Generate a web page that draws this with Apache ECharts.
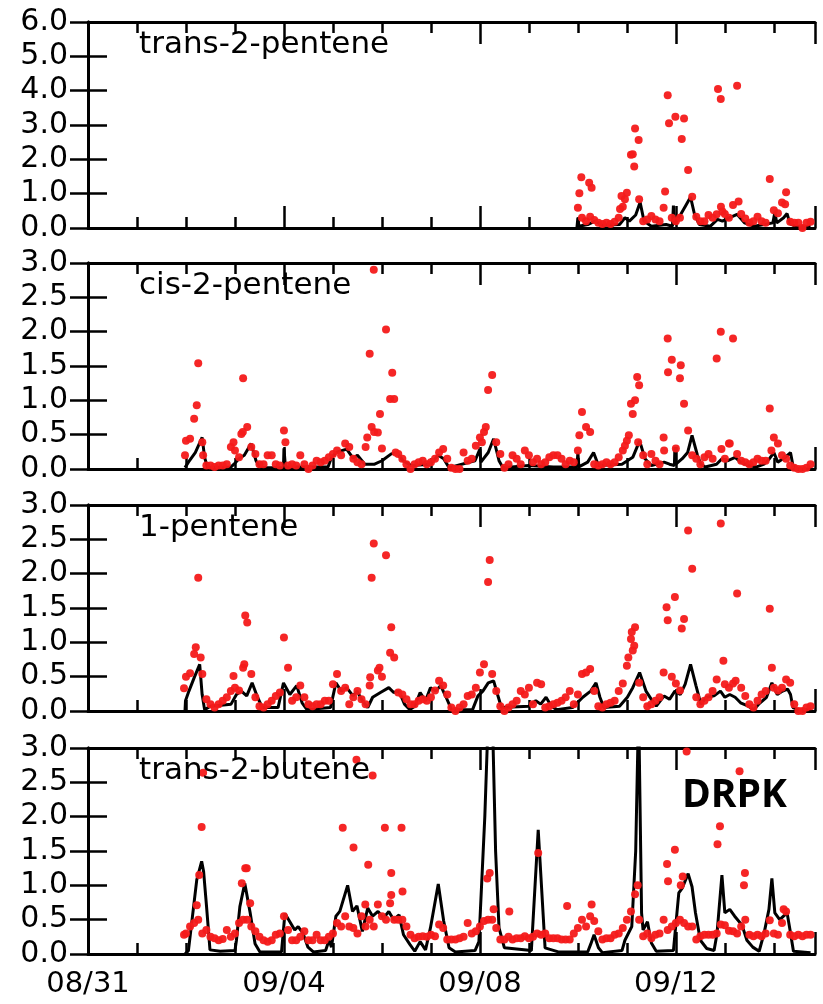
<!DOCTYPE html>
<html>
<head>
<meta charset="utf-8">
<script src="https://cdn.jsdelivr.net/npm/echarts@6/dist/echarts.min.js"></script>
<style>
html,body{margin:0;padding:0;background:#fff;}
#chart{width:823px;height:1004px;}
</style>
</head>
<body>
<div id="chart"></div>
<script>
// ---------------- DATA ----------------
// time in days since 08/31 00:00
const xTickDays = [0, 4, 8, 12];
const xTickLabels = ['08/31', '09/04', '09/08', '09/12'];
const panelNames = ['trans-2-pentene', 'cis-2-pentene', '1-pentene', 'trans-2-butene'];
const yMaxes = [6, 3, 3, 3];
const yIntervals = [1, 0.5, 0.5, 0.5];

// model (black line) vertices [day, value]
const t2pModel = [[9.98,0],[10.0,0.3],[10.02,0.05],[10.2,0.1],[10.35,0.2],[10.5,0.08],[10.85,0.1],[10.96,0.3],[11.05,0.2],[11.18,0.38],[11.27,0.75],[11.35,0.2],[11.5,0.05],[11.8,0.1],[11.93,0.05],[11.95,0.65],[11.97,0.1],[12.1,0.4],[12.2,0.65],[12.3,0.9],[12.38,0.4],[12.48,0.1],[12.7,0.05],[12.85,0.25],[12.95,0.2],[13.1,0.3],[13.25,0.4],[13.4,0.15],[13.6,0.05],[13.8,0.1],[13.98,0.15],[14.02,0.45],[14.06,0.15],[14.2,0.3],[14.27,0.42],[14.33,0.12],[14.45,0.05],[14.75,0.05]];

const c2pModel = [[1.98,0.02],[2.05,0.1],[2.19,0.24],[2.33,0.46],[2.38,0.17],[2.44,0.02],[2.92,0.03],[2.98,0.07],[3.08,0.15],[3.19,0.2],[3.33,0.37],[3.43,0.12],[3.51,0.02],[3.99,0.02],[4.0,0.3],[4.03,0.03],[4.9,0.03],[4.96,0.15],[5.06,0.24],[5.28,0.29],[5.41,0.16],[5.5,0.2],[5.65,0.07],[5.85,0.07],[6.0,0.12],[6.19,0.22],[6.3,0.24],[6.43,0.12],[6.6,0.05],[6.99,0.07],[7.05,0.12],[7.15,0.2],[7.26,0.15],[7.37,0.02],[7.9,0.12],[8.0,0.29],[8.02,0.1],[8.17,0.24],[8.28,0.44],[8.39,0.12],[8.47,0.02],[9.0,0.05],[9.5,0.03],[9.98,0.03],[10.0,0.24],[10.02,0.03],[10.2,0.1],[10.32,0.24],[10.42,0.05],[10.9,0.07],[11.01,0.12],[11.12,0.17],[11.26,0.41],[11.37,0.15],[11.5,0.05],[11.76,0.1],[11.87,0.07],[11.97,0.05],[11.98,0.32],[12.0,0.07],[12.13,0.15],[12.24,0.24],[12.33,0.49],[12.44,0.2],[12.51,0.07],[12.6,0.03],[12.83,0.07],[12.94,0.15],[13.05,0.12],[13.21,0.17],[13.32,0.1],[13.48,0.05],[13.65,0.03],[13.8,0.07],[13.91,0.15],[14.0,0.24],[14.08,0.1],[14.23,0.17],[14.34,0.24],[14.39,0.05],[14.5,0.0],[14.75,0.0]];

const p1Model = [[1.98,0],[1.99,0.15],[2.06,0.29],[2.17,0.49],[2.28,0.68],[2.33,0.24],[2.38,0.02],[2.5,0.07],[2.92,0.1],[3.03,0.24],[3.13,0.29],[3.24,0.22],[3.35,0.41],[3.46,0.2],[3.56,0.05],[3.88,0.05],[3.99,0.41],[4.12,0.24],[4.26,0.37],[4.37,0.12],[4.47,0.02],[4.95,0.05],[5.06,0.41],[5.17,0.29],[5.28,0.34],[5.41,0.22],[5.49,0.29],[5.6,0.15],[5.71,0.05],[5.81,0.2],[5.97,0.27],[6.14,0.34],[6.24,0.27],[6.35,0.29],[6.46,0.1],[6.57,0.02],[6.67,0.07],[6.78,0.27],[6.89,0.15],[6.99,0.34],[7.1,0.29],[7.2,0.37],[7.31,0.2],[7.42,0.02],[7.85,0.02],[7.96,0.22],[8.06,0.29],[8.17,0.41],[8.28,0.44],[8.36,0.24],[8.44,0.05],[9.0,0.07],[9.14,0.15],[9.24,0.1],[9.35,0.2],[9.46,0.07],[9.57,0.02],[9.89,0.05],[10.1,0.2],[10.26,0.29],[10.37,0.41],[10.45,0.2],[10.53,0.05],[10.85,0.07],[11.01,0.2],[11.12,0.34],[11.26,0.56],[11.39,0.29],[11.5,0.17],[11.6,0.07],[11.76,0.22],[11.87,0.17],[11.98,0.29],[12.09,0.24],[12.19,0.39],[12.3,0.68],[12.41,0.37],[12.51,0.1],[12.62,0.2],[12.78,0.22],[12.91,0.29],[13.0,0.2],[13.1,0.24],[13.21,0.2],[13.32,0.12],[13.48,0.07],[13.59,0.02],[13.69,0.1],[13.85,0.2],[13.96,0.41],[14.07,0.24],[14.18,0.29],[14.28,0.32],[14.34,0.24],[14.39,0.05],[14.5,0.02],[14.75,0.02]];

const t2bModel = [[1.98,0],[2.05,0.05],[2.22,1.08],[2.32,1.35],[2.36,1.2],[2.42,0.69],[2.49,0.06],[2.7,0.04],[3.0,0.05],[3.03,0.2],[3.1,0.69],[3.2,1.03],[3.31,0.6],[3.41,0.15],[3.51,0.03],[3.95,0.03],[4.02,0.59],[4.12,0.47],[4.22,0.35],[4.29,0.4],[4.39,0.3],[4.49,0.1],[4.6,0.03],[4.85,0.05],[4.92,0.2],[4.97,0.1],[5.06,0.55],[5.14,0.62],[5.3,1.0],[5.4,0.62],[5.49,0.7],[5.6,0.33],[5.71,0.67],[5.81,0.55],[5.92,0.62],[6.03,0.52],[6.14,0.62],[6.24,0.5],[6.35,0.57],[6.44,0.28],[6.57,0.14],[6.67,0.04],[6.78,0.18],[6.89,0.06],[6.99,0.38],[7.15,1.02],[7.26,0.48],[7.37,0.09],[7.5,0.03],[7.9,0.05],[7.98,0.18],[8.1,2.0],[8.22,4.5],[8.32,1.5],[8.39,0.38],[8.5,0.09],[9.05,0.05],[9.19,1.81],[9.33,0.09],[9.6,0.03],[10.2,0.03],[10.26,0.14],[10.33,0.28],[10.42,0.09],[10.5,0.02],[10.9,0.05],[10.96,0.2],[11.1,0.4],[11.18,1.5],[11.24,3.6],[11.3,0.6],[11.33,0.35],[11.42,0.47],[11.5,0.16],[11.6,0.04],[11.95,0.05],[12.06,0.89],[12.13,0.96],[12.25,1.17],[12.33,0.98],[12.4,0.6],[12.5,0.2],[12.63,0.08],[12.78,0.05],[12.84,0.3],[12.94,1.15],[13.0,0.6],[13.1,0.65],[13.2,0.55],[13.35,0.42],[13.45,0.2],[13.57,0.1],[13.7,0.04],[13.8,0.3],[13.9,0.65],[13.96,1.1],[14.02,0.6],[14.12,0.5],[14.27,0.6],[14.33,0.35],[14.4,0.04],[14.75,0.02]];

// observations (red dots): 2-hourly values, starting at obsStart
const t2pObsStart = 10;
const t2pObs = [
 0.59,0.3,0.2,0.33,0.23,0.15,0.12,0.15,0.12,0.18,0.3,0.62,
 1.03,2.13,2.9,0.84,0.2,0.25,0.35,0.25,0.2,0.59,3.87,0.3,
 0.2,0.3,3.19,1.69,0.91,0.33,0.2,0.2,0.38,0.3,0.4,3.76,
 0.41,0.3,0.67,4.14,0.41,0.28,0.15,0.2,0.33,0.2,0.15,1.43,
 0.52,0.43,0.74,1.04,0.18,0.15,0.15,0.0,0.15,0.18];
const t2pObsExtra = [[10.03,1.01],[10.07,1.48],[10.23,1.32],[10.28,1.17],[10.86,0.55],[10.89,0.93],[10.96,0.84],[11.12,2.15],[11.15,1.79],[11.24,2.56],[11.78,1.06],[11.86,3.05],[11.99,3.24],[12.12,2.59],[12.86,4.05],[12.92,0.62],[12.95,0.48],[13.28,0.77],[14.23,0.69]];

const c2pObsStart = 2;
const c2pObs = [
 0.41,0.44,0.73,1.54,0.39,0.05,0.05,0.03,0.05,0.05,0.07,0.32,
 0.27,0.17,1.32,0.61,0.32,0.22,0.07,0.07,0.2,0.2,0.07,0.05,
 0.56,0.05,0.07,0.05,0.2,0.07,0.0,0.05,0.12,0.1,0.12,0.17,
 0.22,0.27,0.2,0.37,0.32,0.15,0.1,0.07,0.32,1.68,2.9,0.53,
 0.3,2.03,1.02,1.02,0.22,0.15,0.07,0.0,0.07,0.1,0.12,0.07,
 0.1,0.15,0.24,0.29,0.15,0.02,0.0,0.0,0.24,0.12,0.15,0.34,
 0.46,0.54,1.15,1.37,0.39,0.22,0.02,0.07,0.2,0.15,0.07,0.27,
 0.2,0.1,0.15,0.07,0.1,0.17,0.2,0.2,0.15,0.07,0.12,0.1,
 0.27,0.83,0.61,0.54,0.07,0.05,0.07,0.1,0.07,0.1,0.17,0.27,
 0.41,0.95,1.0,1.22,0.2,0.07,0.22,0.12,0.07,0.46,1.9,1.59,
 0.3,1.32,0.95,0.56,0.2,0.15,0.07,0.17,0.22,0.15,1.61,2.0,
 0.15,0.37,1.9,0.22,0.12,0.1,0.07,0.1,0.15,0.12,0.12,0.88,
 0.46,0.37,0.2,0.15,0.05,0.02,0.0,0.0,0.02,0.07];
const c2pObsExtra = [[1.98,0.2],[2.22,0.93],[2.35,0.2],[2.97,0.39],[3.13,0.51],[3.16,0.54],[4.03,0.39],[5.7,0.46],[5.79,0.61],[5.84,0.54],[5.96,0.8],[6.21,1.4],[6.28,0.24],[8.04,0.39],[8.12,0.61],[10.03,0.49],[10.96,0.34],[11.04,0.49],[11.12,0.8],[11.21,1.34],[11.23,0.39],[11.76,0.27],[11.84,1.41],[12.1,1.51],[12.93,0.29],[13.1,0.37],[13.95,0.27]];

const p1ObsStart = 2;
const p1Obs = [
 0.5,0.55,0.83,1.94,0.54,0.17,0.1,0.05,0.1,0.15,0.2,0.29,
 0.34,0.3,0.63,1.29,0.54,0.2,0.07,0.05,0.1,0.15,0.22,0.27,
 1.07,0.63,0.15,0.2,0.37,0.2,0.1,0.07,0.1,0.1,0.15,0.15,
 0.39,0.54,0.29,0.34,0.1,0.2,0.29,0.17,0.1,0.37,2.44,0.59,
 0.5,2.27,0.85,0.78,0.27,0.24,0.17,0.1,0.1,0.15,0.17,0.15,
 0.2,0.3,0.44,0.37,0.24,0.05,0.0,0.05,0.1,0.22,0.24,0.34,
 0.56,0.68,1.88,0.54,0.29,0.07,0.0,0.05,0.1,0.15,0.29,0.24,
 0.34,0.1,0.41,0.39,0.05,0.07,0.1,0.12,0.15,0.2,0.29,0.1,
 0.24,0.54,0.56,0.61,0.29,0.07,0.05,0.1,0.12,0.15,0.29,0.4,
 0.66,1.05,1.22,0.41,0.2,0.07,0.1,0.15,0.2,0.56,1.32,0.5,
 0.4,0.3,1.34,2.63,2.07,0.2,0.1,0.15,0.2,0.29,0.46,2.73,
 0.39,0.34,0.4,1.71,0.34,0.22,0.1,0.05,0.15,0.24,0.29,1.49,
 0.34,0.3,0.34,0.46,0.41,0.1,0.0,0.0,0.05,0.07];
const p1ObsExtra = [[1.96,0.33],[2.2,0.93],[2.3,0.78],[2.97,0.51],[3.19,0.68],[3.21,1.39],[5.76,0.49],[5.79,1.94],[5.95,0.63],[6.19,1.22],[8.2,2.2],[11.03,0.78],[11.1,1.15],[11.12,0.88],[11.15,0.95],[11.81,1.51],[11.98,1.66],[12.12,1.2],[12.97,0.73],[13.22,0.44],[13.96,0.63]];

const t2bObsStart = 2;
const t2bObs = [
 0.3,0.4,0.45,0.5,0.3,0.35,0.25,0.23,0.2,0.22,0.35,0.25,
 0.3,0.45,0.5,0.5,0.4,0.33,0.25,0.2,0.18,0.2,0.28,0.3,
 0.55,0.35,0.2,0.2,0.25,0.33,0.2,0.2,0.28,0.2,0.2,0.25,
 0.3,0.45,0.4,0.55,0.4,0.38,0.3,0.55,0.4,0.5,0.4,0.72,
 0.55,0.5,0.74,0.5,0.5,0.5,0.4,0.28,0.23,0.25,0.26,0.25,
 0.28,0.26,0.43,0.38,0.21,0.21,0.21,0.23,0.25,0.45,0.3,0.33,
 0.4,0.48,0.5,0.5,0.38,0.21,0.21,0.25,0.21,0.23,0.23,0.26,
 0.23,0.25,0.3,0.28,0.3,0.23,0.23,0.23,0.21,0.21,0.21,0.3,
 0.38,0.5,0.4,0.55,0.48,0.33,0.21,0.23,0.23,0.28,0.3,0.38,
 0.5,0.62,0.87,0.5,0.26,0.3,0.23,0.28,0.3,0.5,0.35,0.4,
 0.45,0.5,0.45,0.4,0.4,0.21,0.26,0.28,0.28,0.28,0.3,0.43,
 0.42,0.34,0.33,0.3,0.4,0.5,0.28,0.26,0.28,0.26,0.3,0.49,
 0.3,0.28,0.45,0.62,0.28,0.26,0.28,0.26,0.28,0.28];
const t2bObsExtra = [[1.96,0.28],[2.22,0.71],[2.27,1.15],[2.32,1.85],[2.35,2.64],[3.14,1.03],[3.21,1.25],[3.24,1.25],[3.31,0.74],[5.2,1.84],[5.42,1.55],[5.48,2.83],[5.66,0.72],[5.72,1.3],[5.81,2.6],[6.06,1.84],[6.19,1.18],[6.19,0.86],[6.4,1.84],[6.42,0.91],[8.15,1.1],[8.2,1.18],[8.28,0.65],[8.6,0.62],[9.19,1.47],[9.78,0.7],[10.28,0.72],[11.22,1.0],[11.82,1.31],[11.84,1.06],[11.98,1.52],[12.1,1.0],[12.14,1.13],[12.22,2.95],[12.85,1.6],[12.9,1.86],[13.3,2.66],[13.39,1.0],[13.41,1.18],[14.2,0.65]];

const models = [t2pModel, c2pModel, p1Model, t2bModel];
const obsLists = [t2pObs, c2pObs, p1Obs, t2bObs];
const obsStarts = [t2pObsStart, c2pObsStart, p1ObsStart, t2bObsStart];
const obsExtras = [t2pObsExtra, c2pObsExtra, p1ObsExtra, t2bObsExtra];
const obsStepDays = 1 / 12;

// ---------------- LAYOUT / STYLE ----------------
const X_MAX = 14.84;
const gridTops = [22, 263, 505, 748];
const gridH = 206;
const GL = 88, GR = 8;
const FONT = '"DejaVu Sans", sans-serif';
const BLACK = '#000';
const RED = '#f41a1a';

const grids = [], xAxes = [], yAxes = [], series = [], graphics = [];

function xAx(i, pos, interval, len, showLine, showLabel) {
  return {
    gridIndex: i, type: 'value', min: 0, max: X_MAX, interval: interval, position: pos,
    axisLine: { show: showLine, lineStyle: { color: BLACK, width: 3 } },
    axisTick: { show: true, inside: true, length: len, lineStyle: { color: BLACK, width: 2.5 } },
    axisLabel: showLabel ? {
      show: true, color: BLACK, fontSize: 29, fontFamily: FONT, margin: 16,
      showMinLabel: true, showMaxLabel: true,
      formatter: function (v) {
        const k = xTickDays.findIndex(d => Math.abs(d - v) < 1e-6);
        return k >= 0 ? xTickLabels[k] : '';
      }
    } : { show: false },
    splitLine: { show: false }
  };
}

for (let i = 0; i < 4; i++) {
  grids.push({ left: GL, right: GR, top: gridTops[i], height: gridH, containLabel: false });
  xAxes.push(xAx(i, 'bottom', 1, 11, true, i === 3));
  xAxes.push(xAx(i, 'bottom', 4, 22, false, false));
  xAxes.push(xAx(i, 'top', 1, 11, true, false));
  xAxes.push(xAx(i, 'top', 4, 22, false, false));
  yAxes.push({
    gridIndex: i, type: 'value', min: 0, max: yMaxes[i], interval: yIntervals[i], position: 'left',
    axisLine: { show: true, lineStyle: { color: BLACK, width: 3 } },
    axisTick: { show: true, inside: true, length: 19, lineStyle: { color: BLACK, width: 2.5 } },
    axisLabel: { show: true, color: BLACK, fontSize: 30, fontFamily: FONT, margin: 20,
      showMinLabel: true, showMaxLabel: true, formatter: v => v.toFixed(1) },
    splitLine: { show: false }
  });
  yAxes.push({
    gridIndex: i, type: 'value', min: 0, max: yMaxes[i], interval: yIntervals[i], position: 'right',
    axisLine: { show: true, lineStyle: { color: BLACK, width: 3 } },
    axisTick: { show: true, inside: true, length: 18, lineStyle: { color: BLACK, width: 2.5 } },
    axisLabel: { show: false },
    splitLine: { show: false }
  });

  series.push({
    type: 'line', xAxisIndex: 4 * i, yAxisIndex: 2 * i, data: models[i],
    showSymbol: false, symbol: 'none', clip: true,
    lineStyle: { color: BLACK, width: 3 }, z: 2
  });
  const obsData = obsLists[i].map((v, k) => [obsStarts[i] + k * obsStepDays, v]).concat(obsExtras[i]);
  series.push({
    type: 'scatter', xAxisIndex: 4 * i, yAxisIndex: 2 * i, data: obsData,
    symbol: 'circle', symbolSize: 8, clip: false,
    itemStyle: { color: RED, opacity: 0.95 }, z: 3
  });

  graphics.push({
    type: 'text', left: 139, top: gridTops[i] + 7, z: 10,
    style: { text: panelNames[i], fill: BLACK, fontSize: 31, fontFamily: FONT }
  });
}
graphics.push({
  type: 'text', left: 682, top: 776, z: 10,
  style: { text: 'DRPK', fill: BLACK, fontSize: 39, fontWeight: 'bold', fontFamily: '"Open Sans", "Noto Sans", sans-serif' }
});

const chart = echarts.init(document.getElementById('chart'), null, { renderer: 'canvas' });
chart.setOption({
  animation: false,
  backgroundColor: '#fff',
  grid: grids,
  xAxis: xAxes,
  yAxis: yAxes,
  series: series,
  graphic: graphics
});
</script>
</body>
</html>
